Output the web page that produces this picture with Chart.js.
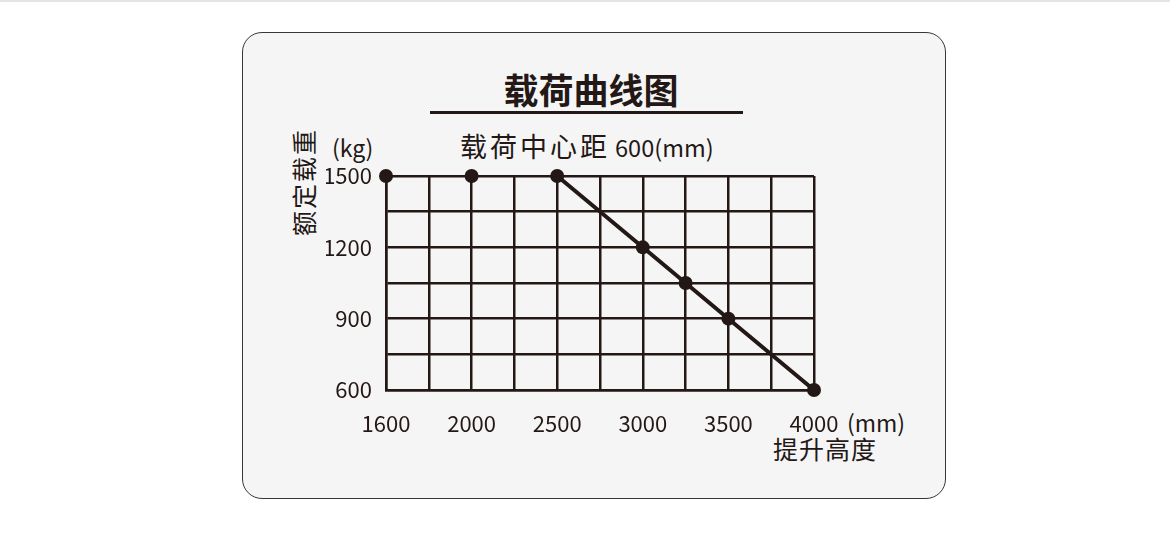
<!DOCTYPE html>
<html>
<head>
<meta charset="utf-8">
<script src="https://cdn.jsdelivr.net/npm/chart.js@4/dist/chart.umd.min.js"></script>
<style>
  html, body { margin: 0; padding: 0; background: #fff; }
  body { width: 1170px; height: 539px; position: relative; overflow: hidden;
         font-family: "Noto Sans CJK SC", "Noto Sans", sans-serif; color: #231815; }
  .topline { position: absolute; left: 0; top: 0; width: 1170px; height: 2px; background: #e4e4e4; }
  .card { position: absolute; left: 242px; top: 32px; width: 702px; height: 465px;
          border: 1.6px solid #3a3634; border-radius: 20px; background: #f5f5f5; }
  .txt { position: absolute; white-space: nowrap; line-height: 1; }
  #title { left: 591px; top: 88px; transform: translate(-50%, -50%); font-size: 35px; font-weight: 700; }
  .rule { position: absolute; left: 430px; top: 111px; width: 313px; height: 3px; background: #231815; }
  #subtitle { left: 460px; top: 146px; transform: translateY(-50%); font-size: 27px; letter-spacing: 3px; }
  #subtitle span { font-size: 23.5px; letter-spacing: 0; margin-left: -4px; }
  #unitY { left: 332px; top: 147px; transform: translateY(-50%); font-size: 23px; }
  #titleY { left: 303px; top: 182px; transform: translate(-50%, -50%) rotate(-90deg); font-size: 25px; letter-spacing: 2px; }
  #unitX { left: 847px; top: 422px; transform: translateY(-50%); font-size: 23px; }
  #titleX { left: 773px; top: 448px; transform: translateY(-50%); font-size: 25px; letter-spacing: 1px; }
  canvas { position: absolute; left: 0; top: 0; }
</style>
</head>
<body>
<div class="topline"></div>
<div class="card"></div>
<div class="txt" id="title">载荷曲线图</div>
<div class="rule"></div>
<div class="txt" id="subtitle">载荷中心距 <span>600(mm)</span></div>
<div class="txt" id="unitY">(kg)</div>
<div class="txt" id="titleY">额定载重</div>
<div class="txt" id="unitX">(mm)</div>
<div class="txt" id="titleX">提升高度</div>
<canvas id="loadChart" width="1170" height="539"></canvas>
<script>
// lift heights (mm) on the grid columns, and the ones that get a label
const heightLabels = ['1600', '1800', '2000', '2250', '2500', '2750', '3000', '3250', '3500', '3750', '4000'];
const shownHeights = ['1600', '2000', '2500', '3000', '3500', '4000'];
// rated load (kg) per column, null where there is no point
const loadValues = [1500, null, 1500, null, 1500, null, 1200, 1050, 900, null, 600];
const loadTicks = [600, 900, 1200, 1500];

const INK = '#231815';
const tickFont = { family: '"Noto Sans CJK SC", "Noto Sans", sans-serif', size: 22 };

const ctx = document.getElementById('loadChart').getContext('2d');
new Chart(ctx, {
  type: 'line',
  data: {
    labels: heightLabels,
    datasets: [{
      data: loadValues,
      spanGaps: true,
      clip: false,
      borderColor: INK,
      borderWidth: 4,
      pointRadius: 7,
      pointBackgroundColor: INK,
      pointBorderWidth: 0,
      segment: {
        // the first points stand alone, the curve starts at 2500
        borderColor: (c) => c.p0DataIndex < 4 ? 'rgba(0,0,0,0)' : INK
      }
    }]
  },
  options: {
    responsive: false,
    animation: false,
    layout: { padding: { left: 326, right: 356, top: 176, bottom: 99 } },
    plugins: { legend: { display: false }, tooltip: { enabled: false } },
    scales: {
      x: {
        offset: false,
        afterFit: (s) => { s.height = 50; },
        grid: { color: INK, lineWidth: 2.5, drawTicks: false },
        border: { color: INK, width: 2.5 },
        ticks: {
          color: INK, font: tickFont, padding: 20, autoSkip: false, maxRotation: 0,
          callback: (v, i) => shownHeights.includes(heightLabels[i]) ? heightLabels[i] : ''
        }
      },
      y: {
        min: 600, max: 1500,
        afterFit: (s) => { s.width = 60; },
        grid: { color: INK, lineWidth: 2.5, drawTicks: false },
        border: { color: INK, width: 2.5 },
        ticks: {
          stepSize: 150, color: INK, font: tickFont, padding: 14,
          callback: (v) => loadTicks.includes(v) ? String(v) : ''
        }
      }
    }
  }
});
</script>
</body>
</html>
